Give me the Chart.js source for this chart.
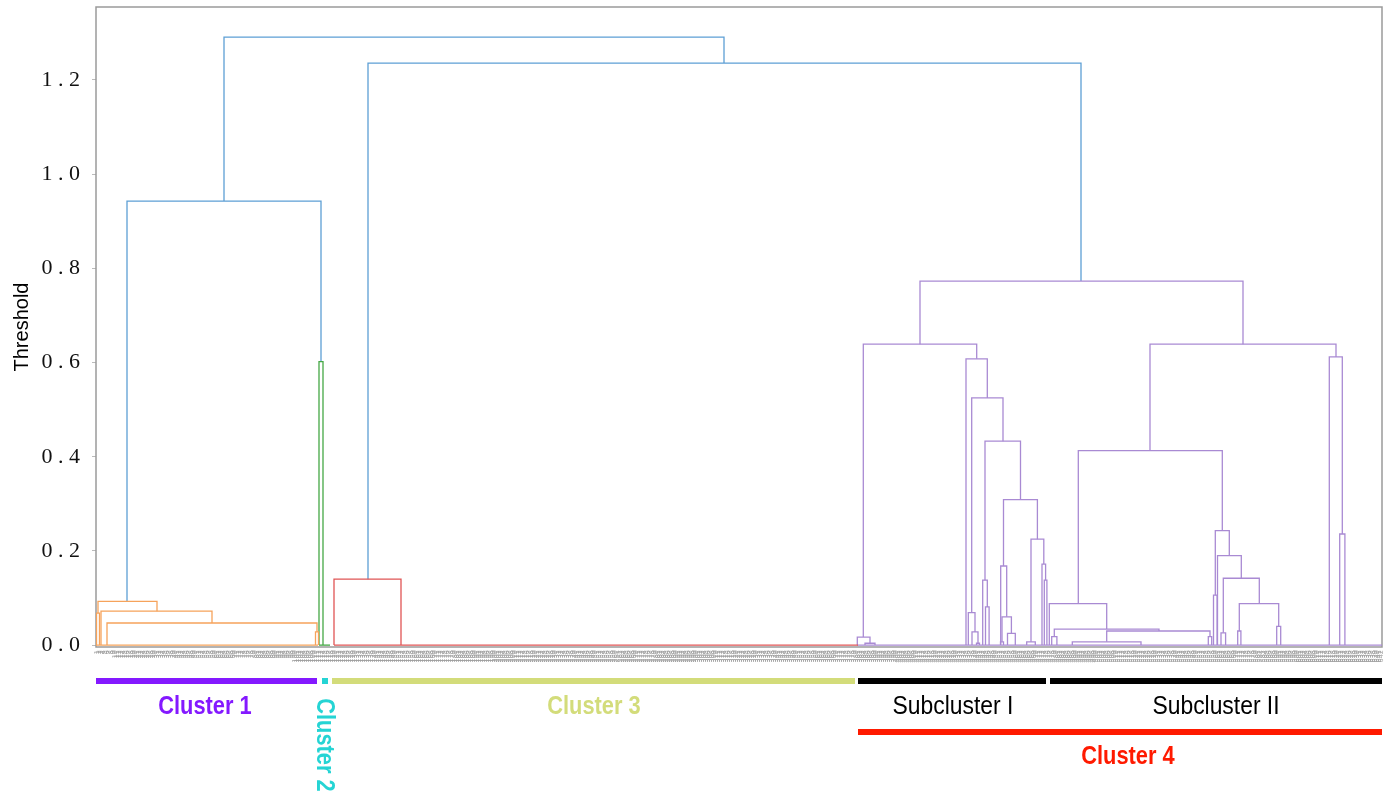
<!DOCTYPE html>
<html><head><meta charset="utf-8">
<script src="https://cdn.jsdelivr.net/npm/chart.js@4.4.1/dist/chart.umd.min.js"></script>
<style>html,body{margin:0;padding:0;background:#fff;overflow:hidden}#wrap{width:1388px;height:793px}</style>
</head><body><div id="wrap"><canvas id="c" width="1388" height="793"></canvas></div>
<script>
// ---------- DATA ----------
const yTickValues = [0, 0.2, 0.4, 0.6, 0.8, 1.0, 1.2];
const xLimits = [96, 1382];          // leaf-axis position range
const yLimits = [-0.004, 1.355];
const leafCount = 642;
const leafLabels = Array.from({length: leafCount}, (_, i) => String(i + 1));

// each link: [leftX, rightX, mergeHeight, leftChildHeight, rightChildHeight]
const aboveLinks = [
  [224, 724, 1.291, 0.943, 1.236],
  [127, 321, 0.943, 0.093, 0.602],
  [368, 1081, 1.236, 0.140, 0.773]
];
const cluster1Links = [
  [98, 157, 0.093, 0.068, 0.072],
  [96.5, 99.5, 0.068, 0, 0],
  [101, 212, 0.072, 0, 0.047],
  [107, 317, 0.047, 0, 0.028],
  [315.5, 318.5, 0.028, 0, 0],
  [96, 318, 0, 0, 0]
];
const cluster2Links = [
  [319, 323, 0.602, 0, 0],
  [319, 330, 0, 0, 0]
];
const cluster3Links = [
  [334, 401, 0.140, 0, 0],
  [334, 858, 0, 0, 0]
];
const cluster4Links = [
  [920, 1243, 0.773, 0.639, 0.639],
  [863.3, 976.7, 0.639, 0.017, 0.608],
  [857.3, 870, 0.017, 0, 0.004],
  [865, 875, 0.004, 0, 0],
  [966, 987.3, 0.608, 0, 0.525],
  [971.7, 1003, 0.525, 0.069, 0.433],
  [968.3, 975, 0.069, 0, 0.028],
  [972, 978, 0.028, 0, 0.004],
  [976.5, 979.5, 0.004, 0, 0],
  [985, 1020.5, 0.433, 0.138, 0.309],
  [982.7, 987.3, 0.138, 0, 0.081],
  [985.5, 989.1, 0.081, 0, 0],
  [1003.5, 1037.4, 0.309, 0.168, 0.225],
  [1000.7, 1006.7, 0.168, 0, 0.060],
  [1002, 1011.4, 0.060, 0.007, 0.025],
  [1000.5, 1003.5, 0.007, 0, 0],
  [1007.5, 1015.3, 0.025, 0, 0],
  [1031, 1043.8, 0.225, 0.007, 0.172],
  [1026.7, 1035.3, 0.007, 0, 0],
  [1042, 1045.6, 0.172, 0, 0.138],
  [1044.3, 1046.9, 0.138, 0, 0],
  [1150, 1336, 0.639, 0.413, 0.612],
  [1078.3, 1222.3, 0.413, 0.088, 0.243],
  [1049.3, 1106.7, 0.088, 0, 0.034],
  [1054.3, 1159, 0.034, 0.018, 0.030],
  [1051.7, 1056.9, 0.018, 0, 0],
  [1106.7, 1210, 0.030, 0.007, 0.018],
  [1072.3, 1141, 0.007, 0, 0],
  [1208.3, 1211.7, 0.018, 0, 0],
  [1215.3, 1229.3, 0.243, 0.106, 0.190],
  [1213.5, 1217.1, 0.106, 0, 0],
  [1217.5, 1241.3, 0.190, 0, 0.142],
  [1223.3, 1259.3, 0.142, 0.026, 0.088],
  [1221, 1225.6, 0.026, 0, 0],
  [1239.3, 1278.7, 0.088, 0.030, 0.040],
  [1237.7, 1240.9, 0.030, 0, 0],
  [1276.7, 1280.7, 0.040, 0, 0],
  [1329.3, 1342.3, 0.612, 0, 0.236],
  [1339.7, 1344.9, 0.236, 0, 0],
  [857, 1382, 0, 0, 0]
];

// cluster annotation (leaf-axis ranges)
const groupNames   = ['Cluster 1', 'Cluster 2', 'Cluster 3', 'Subcluster I', 'Subcluster II', 'Cluster 4'];
const groupStart   = [96, 322, 332, 858, 1050, 858];
const groupEnd     = [317, 328, 855, 1046, 1382, 1382];
const groupLabelX  = [205, 324, 594, 953, 1216, 1128];

// ---------- STYLES ----------
const linkColors = {above: '#5d9fd5', c1: '#f6a35b', c2: '#45a845', c3: '#e05555', c4: '#a98ad3'};
const groupStyle = [
  {color: '#8419ff', bold: true,  barY: 681, textY: 707, rot: false},
  {color: '#25d4d4', bold: true,  barY: 681, textY: 745, rot: true},
  {color: '#d3dc7a', bold: true,  barY: 681, textY: 707, rot: false},
  {color: '#000000', bold: false, barY: 681, textY: 707, rot: false},
  {color: '#000000', bold: false, barY: 681, textY: 707, rot: false},
  {color: '#ff1a00', bold: true,  barY: 732, textY: 757, rot: false}
];

function linkDatasets(links, color) {
  return links.map(l => ({
    data: [{x: l[0], y: l[3]}, {x: l[0], y: l[2]}, {x: l[1], y: l[2]}, {x: l[1], y: l[4]}],
    showLine: true, borderColor: color, borderWidth: 1.3, pointRadius: 0, tension: 0, fill: false
  }));
}
const datasets = [].concat(
  linkDatasets(cluster1Links, linkColors.c1),
  linkDatasets(cluster2Links, linkColors.c2),
  linkDatasets(cluster3Links, linkColors.c3),
  linkDatasets(cluster4Links, linkColors.c4),
  linkDatasets(aboveLinks, linkColors.above)
);

const framePlugin = {
  id: 'frame',
  beforeDatasetsDraw(chart) {
    const a = chart.chartArea, ctx = chart.ctx;
    ctx.save();
    ctx.strokeStyle = '#9a9a9a'; ctx.lineWidth = 1.5;
    ctx.strokeRect(a.left, a.top, a.right - a.left, a.bottom - a.top);
    ctx.restore();
  }
};

function drawText(ctx, s, cx, cy, font, color, sx, rot) {
  ctx.save();
  ctx.translate(cx, cy);
  if (rot) ctx.rotate(Math.PI / 2);
  ctx.scale(sx, 1);
  ctx.font = font; ctx.fillStyle = color;
  ctx.textAlign = 'center'; ctx.textBaseline = 'middle';
  ctx.fillText(s, 0, 0);
  ctx.restore();
}

const annotPlugin = {
  id: 'annot',
  afterDraw(chart) {
    const ctx = chart.ctx, xs = chart.scales.x;
    groupNames.forEach((name, i) => {
      const st = groupStyle[i];
      const x0 = xs.getPixelForValue(groupStart[i]), x1 = xs.getPixelForValue(groupEnd[i]);
      ctx.fillStyle = st.color;
      ctx.fillRect(x0, st.barY - 3, x1 - x0, 6);
      const cx = xs.getPixelForValue(groupLabelX[i]);
      const font = (st.bold ? 'bold ' : '') + '26px "Liberation Sans", Arial, sans-serif';
      drawText(ctx, name, cx, st.textY, font, st.color, st.bold ? 0.84 : 0.88, st.rot);
    });
  }
};

new Chart(document.getElementById('c'), {
  type: 'scatter',
  data: {datasets},
  options: {
    responsive: false, animation: false, events: [],
    layout: {padding: {top: 7, right: 6, left: 0, bottom: 0}},
    plugins: {legend: {display: false}, tooltip: {enabled: false}},
    scales: {
      x: {
        type: 'linear', position: 'bottom', min: xLimits[0], max: xLimits[1],
        afterBuildTicks: s => {
          const step = (xLimits[1] - xLimits[0]) / leafCount;
          s.ticks = leafLabels.map((_, i) => ({value: xLimits[0] + (i + 0.5) * step}));
        },
        afterFit: s => { s.height = 146; s.paddingLeft = 0; s.paddingRight = 0; s.paddingTop = 0; s.paddingBottom = 0; },
        grid: {display: false, drawTicks: false},
        border: {display: false},
        ticks: {
          autoSkip: false, minRotation: 90, maxRotation: 90, padding: 3,
          font: {family: 'DejaVu Sans', size: 6.5}, color: '#a0a0a0',
          callback: (v, i) => leafLabels[i]
        }
      },
      y: {
        type: 'linear', min: yLimits[0], max: yLimits[1],
        afterBuildTicks: s => { s.ticks = yTickValues.map(v => ({value: v})); },
        afterFit: s => { s.width = 96; s.paddingTop = 0; s.paddingBottom = 0; s.paddingLeft = 0; s.paddingRight = 0; },
        grid: {drawOnChartArea: false, drawTicks: true, tickLength: 4, color: '#bbbbbb'},
        border: {display: false},
        ticks: {
          padding: 12, color: '#111',
          font: {family: '"Liberation Serif", "DejaVu Serif", serif', size: 22},
          callback: v => v.toFixed(1).split('').join(' ')
        },
        title: {
          display: true, text: 'Threshold', color: '#000',
          font: {family: '"Liberation Sans", Arial, sans-serif', size: 20},
          padding: {top: 10, bottom: 0}
        }
      }
    }
  },
  plugins: [framePlugin, annotPlugin]
});
</script>
</body></html>
